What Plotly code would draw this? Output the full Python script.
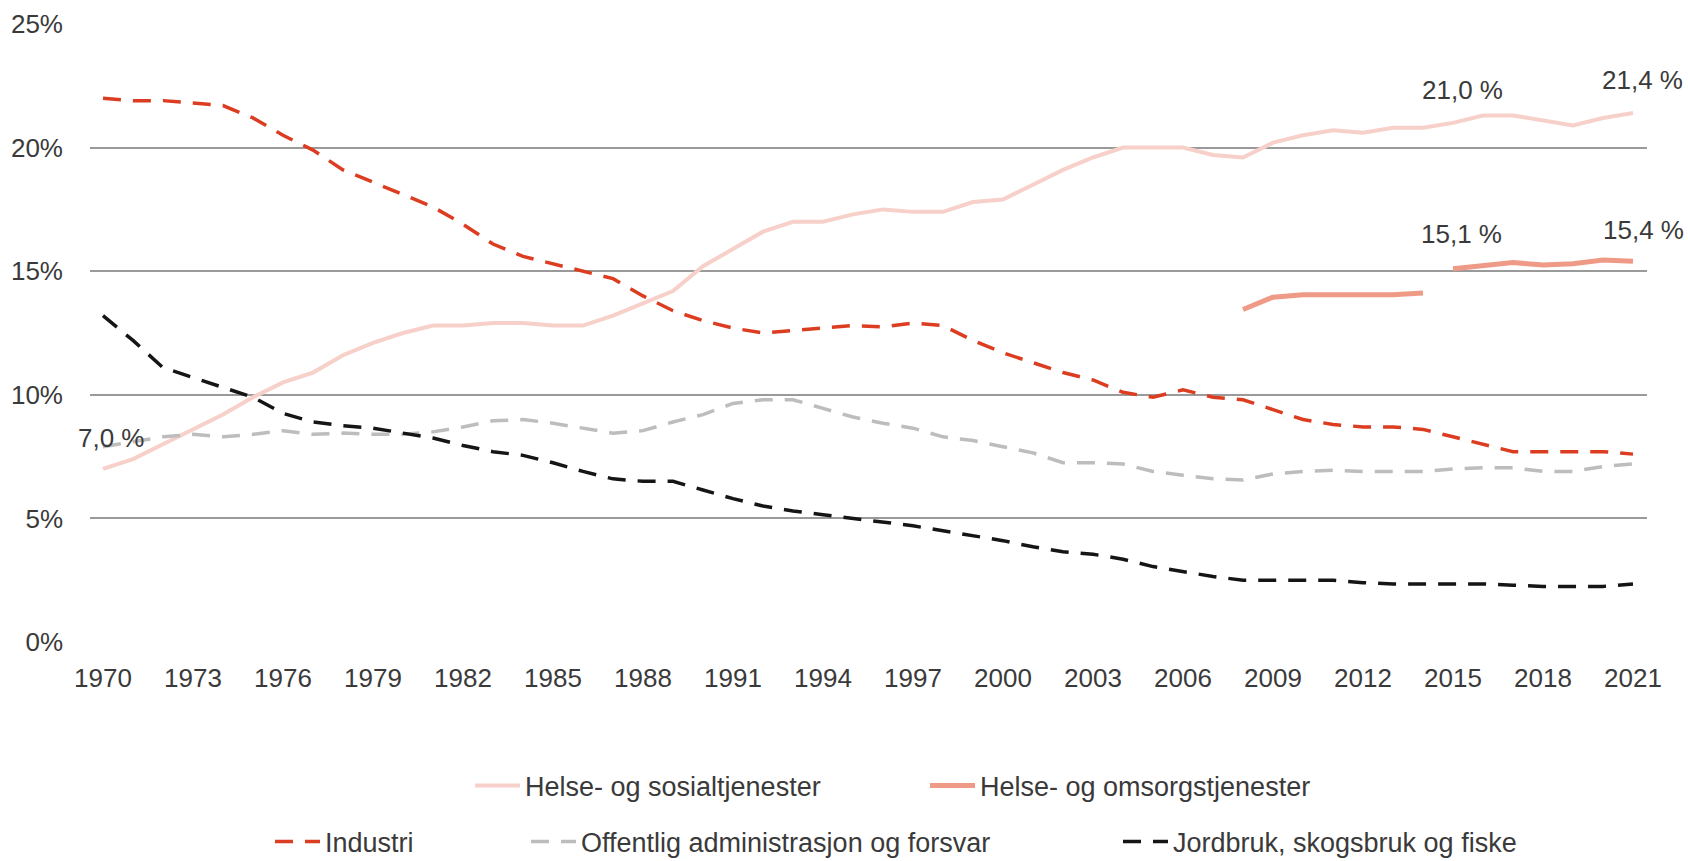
import plotly.graph_objects as go

# Employment share by industry, 1970-2021 (percent of all employed)
years = list(range(1970, 2022))

helse_sosial = [
    7.0, 7.4, 8.0, 8.6, 9.2, 9.9, 10.5, 10.9, 11.6, 12.1,
    12.5, 12.8, 12.8, 12.9, 12.9, 12.8, 12.8, 13.2, 13.7, 14.2,
    15.2, 15.9, 16.6, 17.0, 17.0, 17.3, 17.5, 17.4, 17.4, 17.8,
    17.9, 18.5, 19.1, 19.6, 20.0, 20.0, 20.0, 19.7, 19.6, 20.2,
    20.5, 20.7, 20.6, 20.8, 20.8, 21.0, 21.3, 21.3, 21.1, 20.9,
    21.2, 21.4,
]

industri = [
    22.0, 21.9, 21.9, 21.8, 21.7, 21.2, 20.5, 19.9, 19.1, 18.6,
    18.1, 17.6, 16.9, 16.1, 15.6, 15.3, 15.0, 14.7, 14.0, 13.4,
    13.0, 12.7, 12.5, 12.6, 12.7, 12.8, 12.75, 12.9, 12.8, 12.2,
    11.7, 11.3, 10.9, 10.6, 10.1, 9.9, 10.2, 9.9, 9.8, 9.4,
    9.0, 8.8, 8.7, 8.7, 8.6, 8.3, 8.0, 7.7, 7.7, 7.7,
    7.7, 7.6,
]

offentlig = [
    7.9, 8.1, 8.3, 8.4, 8.3, 8.4, 8.55, 8.4, 8.45, 8.4,
    8.4, 8.5, 8.7, 8.95, 9.0, 8.85, 8.65, 8.45, 8.55, 8.9,
    9.2, 9.65, 9.8, 9.8, 9.45, 9.1, 8.85, 8.65, 8.3, 8.15,
    7.9, 7.65, 7.25, 7.25, 7.2, 6.9, 6.75, 6.6, 6.55, 6.8,
    6.9, 6.95, 6.9, 6.9, 6.9, 7.0, 7.05, 7.05, 6.9, 6.9,
    7.1, 7.2,
]

jordbruk = [
    13.2, 12.2, 11.1, 10.7, 10.3, 9.9, 9.25, 8.9, 8.75, 8.65,
    8.45, 8.25, 7.95, 7.7, 7.55, 7.25, 6.9, 6.6, 6.5, 6.5,
    6.15, 5.8, 5.5, 5.3, 5.15, 5.0, 4.85, 4.7, 4.5, 4.3,
    4.1, 3.85, 3.65, 3.55, 3.35, 3.05, 2.85, 2.65, 2.5, 2.5,
    2.5, 2.5, 2.4, 2.35, 2.35, 2.35, 2.35, 2.3, 2.25, 2.25,
    2.25, 2.35,
]

# Health and care services: old classification 2008-2014, new from 2015
omsorg_years_old = list(range(2008, 2015))
omsorg_old = [13.45, 13.95, 14.05, 14.05, 14.05, 14.05, 14.12]
omsorg_years_new = list(range(2015, 2022))
omsorg_new = [15.1, 15.25, 15.35, 15.25, 15.3, 15.45, 15.4]

x_ticks = list(range(1970, 2022, 3))
y_ticks = [0, 5, 10, 15, 20, 25]
y_tick_text = ["0%", "5%", "10%", "15%", "20%", "25%"]

FONT = "Liberation Sans, Arial, sans-serif"
TEXT = "#3a3a3a"
DASH = "18px,12px"
SYMBOL_W = 45  # legend line sample length

fig = go.Figure()

fig.add_trace(go.Scatter(
    x=years, y=helse_sosial, mode="lines", name="Helse- og sosialtjenester",
    line=dict(color="#f7d0c9", width=4), legend="legend", legendwidth=395,
))
fig.add_trace(go.Scatter(
    x=omsorg_years_old + [None] + omsorg_years_new,
    y=omsorg_old + [None] + omsorg_new,
    mode="lines", name="Helse- og omsorgstjenester", connectgaps=False,
    line=dict(color="#ee9a86", width=5), legend="legend",
))
fig.add_trace(go.Scatter(
    x=years, y=industri, mode="lines", name="Industri",
    line=dict(color="#dc3d20", width=3.5, dash=DASH), legend="legend2", legendwidth=196,
))
fig.add_trace(go.Scatter(
    x=years, y=offentlig, mode="lines", name="Offentlig administrasjon og forsvar",
    line=dict(color="#bdbdbd", width=3.5, dash=DASH), legend="legend2", legendwidth=532,
))
fig.add_trace(go.Scatter(
    x=years, y=jordbruk, mode="lines", name="Jordbruk, skogsbruk og fiske",
    line=dict(color="#151515", width=3.5, dash=DASH), legend="legend2",
))

labels = [
    (1970, helse_sosial[0], "7,0 %", 9, 31),
    (2015, helse_sosial[years.index(2015)], "21,0 %", 10, 33),
    (2021, helse_sosial[-1], "21,4 %", 10, 33),
    (2015, omsorg_new[0], "15,1 %", 9, 35),
    (2021, omsorg_new[-1], "15,4 %", 11, 31),
]
for xv, yv, txt, dx, dy in labels:
    fig.add_annotation(
        x=xv, y=yv, text=txt, showarrow=False, xshift=dx, yshift=dy,
        font=dict(family=FONT, size=26, color=TEXT),
    )

fig.update_layout(
    width=1688, height=861,
    margin=dict(l=90, r=41, t=24, b=219, autoexpand=False),
    paper_bgcolor="white", plot_bgcolor="white",
    font=dict(family=FONT, size=26, color=TEXT),
    showlegend=True,
    legend=dict(
        orientation="h", x=(470 - 90) / 1557, xanchor="left",
        y=(642 - 786) / 618, yanchor="middle", itemwidth=SYMBOL_W,
        font=dict(family=FONT, size=27, color=TEXT), bgcolor="rgba(0,0,0,0)",
    ),
    legend2=dict(
        orientation="h", x=(270 - 90) / 1557, xanchor="left",
        y=(642 - 842) / 618, yanchor="middle", itemwidth=SYMBOL_W,
        font=dict(family=FONT, size=27, color=TEXT), bgcolor="rgba(0,0,0,0)",
    ),
    xaxis=dict(
        range=[1969.567, 2021.467], tickmode="array", tickvals=x_ticks,
        showgrid=False, zeroline=False, showline=False, ticks="",
        ticklabelstandoff=18, tickfont=dict(family=FONT, size=26, color=TEXT),
    ),
    yaxis=dict(
        range=[0, 25], tickmode="array", tickvals=y_ticks, ticktext=y_tick_text,
        showgrid=True, gridcolor="#9a9a9a", gridwidth=1.5, zeroline=False,
        showline=False, ticks="", ticklabelstandoff=26,
        tickfont=dict(family=FONT, size=26, color=TEXT),
    ),
)

fig.write_html("out.html")
